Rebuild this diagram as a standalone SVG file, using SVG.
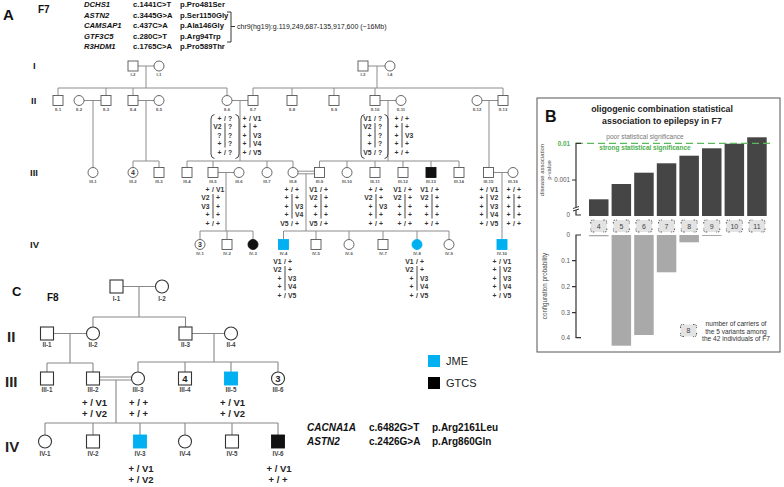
<svg xmlns="http://www.w3.org/2000/svg" xmlns:xlink="http://www.w3.org/1999/xlink" width="784" height="487" viewBox="0 0 784 487">
<style>
text{font-family:'Liberation Sans',Arial,sans-serif}
.ln{stroke:#8c8c8c;stroke-width:1;fill:none}
.s{fill:#fff;stroke:#555;stroke-width:0.9}
.k{fill:#111;stroke:#111;stroke-width:0.9}
.bl{fill:#00b0f0;stroke:#00b0f0;stroke-width:0.9}
.lb{font-weight:bold;font-size:4.3px;fill:#555;text-anchor:middle}
.g{font-weight:bold;font-size:6.8px;fill:#333}
.l{text-anchor:end}.r{text-anchor:start}.m{text-anchor:middle}
.hl{stroke:#333;stroke-width:0.9}
.br{fill:none;stroke:#333;stroke-width:0.9}
.gen{font-weight:bold;font-size:9.5px;fill:#222}
.hd{font-weight:bold;font-size:7.7px;fill:#111}
.it{font-style:italic}
.cs{fill:#fff;stroke:#333;stroke-width:1.1}
.cl{stroke:#888;stroke-width:1.1;fill:none}
.clb{font-weight:bold;font-size:6.3px;fill:#444;text-anchor:middle}
.cg{font-weight:bold;font-size:9.5px;fill:#222;text-anchor:middle}
.cgen{font-weight:bold;font-size:15px;fill:#222}
.num{font-weight:bold;font-size:7px;fill:#333;text-anchor:middle}
.ax{stroke:#333;stroke-width:1.2;fill:none}
.tk{font-size:6.3px;fill:#555;text-anchor:end}
.db{fill:#454545}
.lbar{fill:#a9a9a9}
.tg{font-size:7px;fill:#444;text-anchor:middle}
.sm{font-size:6.6px;fill:#444;text-anchor:middle}
</style>
<defs>
<g id="tag">
<rect x="-8" y="-6" width="16" height="12" rx="2" fill="#e3e3e3"/>
<path d="M-8,-2.5 V-4 Q-8,-6 -6,-6 H-4.5 M4.5,-6 H6 Q8,-6 8,-4 V-2.5 M8,2.5 V4 Q8,6 6,6 H4.5 M-4.5,6 H-6 Q-8,6 -8,4 V2.5" fill="none" stroke="#444" stroke-width="0.9" stroke-dasharray="1.5 1"/>
</g>
</defs>
<rect width="784" height="487" fill="#fff"/>

<g id="header">
<text x="3" y="20" style="font-weight:bold;font-size:15px;fill:#111">A</text>
<text x="38" y="13" style="font-weight:bold;font-size:10px;fill:#111">F7</text>
<text class="hd it" x="84" y="7">DCHS1</text><text class="hd" x="133" y="7">c.1441C&gt;T</text><text class="hd" x="180" y="7">p.Pro481Ser</text>
<text class="hd it" x="84" y="17.5">ASTN2</text><text class="hd" x="133" y="17.5">c.3445G&gt;A</text><text class="hd" x="180" y="17.5">p.Ser1150Gly</text>
<text class="hd it" x="84" y="28">CAMSAP1</text><text class="hd" x="133" y="28">c.437C&gt;A</text><text class="hd" x="180" y="28">p.Ala146Gly</text>
<text class="hd it" x="84" y="38.5">GTF3C5</text><text class="hd" x="133" y="38.5">c.280C&gt;T</text><text class="hd" x="180" y="38.5">p.Arg94Trp</text>
<text class="hd it" x="84" y="49">R3HDM1</text><text class="hd" x="133" y="49">c.1765C&gt;A</text><text class="hd" x="180" y="49">p.Pro589Thr</text>
<path d="M227,12 H231 V42 H227 M231,26.5 H235" fill="none" stroke="#222" stroke-width="0.9"/>
<text x="237" y="29" style="font-size:7px;fill:#222">chr9(hg19):g.119,249,687-135,917,600 (~16Mb)</text>
</g>

<g id="f7-generations">
<text class="gen" x="33" y="69">I</text>
<text class="gen" x="31" y="104">II</text>
<text class="gen" x="30" y="176">III</text>
<text class="gen" x="30" y="248">IV</text>
</g>

<g id="f7-connectors">
<path class="ln" d="M138,66 H154 M146,66 V88 M368,66 H385 M377,66 V88"/>
<path class="ln" d="M58,88 H227 M58,88 V95.5 M106,88 V95.5 M133,88 V95.5 M227,88 V95.5"/>
<path class="ln" d="M253,88 H503 M253,88 V95.5 M292,88 V95.5 M334,88 V95.5 M375,88 V95.5 M503,88 V95.5"/>
<path class="ln" d="M84,100.5 H101 M138,100.5 H154 M232,100.5 H248 M380,100.5 H396 M482,100.5 H498"/>
<path class="ln" d="M93,100.5 V167.5 M146,100.5 V161 M240,100.5 V161 M388,100.5 V161 M489,100.5 V167.5"/>
<path class="ln" d="M133,161 H159 M133,161 V167.5 M159,161 V167.5"/>
<path class="ln" d="M187,161 H293 M187,161 V167.5 M213,161 V167.5 M267,161 V167.5 M293,161 V167.5"/>
<path class="ln" d="M319.5,161 H459 M319.5,161 V167.5 M347,161 V167.5 M375,161 V167.5 M403,161 V167.5 M431,161 V167.5 M459,161 V167.5"/>
<path class="ln" d="M218,172.5 H234 M298,171.2 H314.5 M298,173.8 H314.5 M493.5,172.5 H508"/>
<path class="ln" d="M226,172.5 V231 M306,173.8 V231 M502,172.5 V239.5"/>
<path class="ln" d="M200,231 H253 M200,231 V239.5 M227,231 V239.5 M253,231 V239.5"/>
<path class="ln" d="M283.5,231 H449 M283.5,231 V239.5 M316,231 V239.5 M349,231 V239.5 M383,231 V239.5 M417,231 V239.5 M449,231 V239.5"/>
</g>

<g id="f7-I">
<g id="F7-I-2"><rect class="s" x="128" y="61" width="10" height="10"/><text class="lb" x="133" y="75.5">I-2</text></g>
<g id="F7-I-1"><circle class="s" cx="159" cy="66" r="5"/><text class="lb" x="159" y="75.5">I-1</text></g>
<g id="F7-I-3"><rect class="s" x="358" y="61" width="10" height="10"/><text class="lb" x="363" y="75.5">I-3</text></g>
<g id="F7-I-4"><circle class="s" cx="390" cy="66" r="5"/><text class="lb" x="390" y="75.5">I-4</text></g>
</g>

<g id="f7-II">
<g id="F7-II-1"><rect class="s" x="53" y="95.5" width="10" height="10"/><text class="lb" x="58" y="111">II-1</text></g>
<g id="F7-II-2"><circle class="s" cx="79" cy="100.5" r="5"/><text class="lb" x="79" y="111">II-2</text></g>
<g id="F7-II-3"><rect class="s" x="101" y="95.5" width="10" height="10"/><text class="lb" x="106" y="111">II-3</text></g>
<g id="F7-II-4"><rect class="s" x="128" y="95.5" width="10" height="10"/><text class="lb" x="133" y="111">II-4</text></g>
<g id="F7-II-5"><circle class="s" cx="159" cy="100.5" r="5"/><text class="lb" x="159" y="111">II-5</text></g>
<g id="F7-II-6"><circle class="s" cx="227" cy="100.5" r="5"/><text class="lb" x="227" y="111">II-6</text></g>
<g id="F7-II-7"><rect class="s" x="248" y="95.5" width="10" height="10"/><text class="lb" x="253" y="111">II-7</text></g>
<g id="F7-II-8"><rect class="s" x="287" y="95.5" width="10" height="10"/><text class="lb" x="292" y="111">II-8</text></g>
<g id="F7-II-9"><rect class="s" x="329" y="95.5" width="10" height="10"/><text class="lb" x="334" y="111">II-9</text></g>
<g id="F7-II-10"><rect class="s" x="370" y="95.5" width="10" height="10"/><text class="lb" x="375" y="111">II-10</text></g>
<g id="F7-II-11"><circle class="s" cx="401" cy="100.5" r="5"/><text class="lb" x="401" y="111">II-11</text></g>
<g id="F7-II-12"><circle class="s" cx="477" cy="100.5" r="5"/><text class="lb" x="477" y="111">II-12</text></g>
<g id="F7-II-13"><rect class="s" x="498" y="95.5" width="10" height="10"/><text class="lb" x="503" y="111">II-13</text></g>
</g>

<g id="f7-III">
<g id="F7-III-1"><circle class="s" cx="93" cy="172.5" r="5"/><text class="lb" x="93" y="182.5">III-1</text></g>
<g id="F7-III-2"><circle class="s" cx="133" cy="172.5" r="5"/><text class="num" x="133" y="175">4</text><text class="lb" x="133" y="182.5">III-2</text></g>
<g id="F7-III-3"><rect class="s" x="154" y="167.5" width="10" height="10"/><text class="lb" x="159" y="182.5">III-3</text></g>
<g id="F7-III-4"><rect class="s" x="182" y="167.5" width="10" height="10"/><text class="lb" x="187" y="182.5">III-4</text></g>
<g id="F7-III-5"><rect class="s" x="208" y="167.5" width="10" height="10"/><text class="lb" x="213" y="182.5">III-5</text></g>
<g id="F7-III-6"><circle class="s" cx="239" cy="172.5" r="5"/><text class="lb" x="239" y="182.5">III-6</text></g>
<g id="F7-III-7"><circle class="s" cx="267" cy="172.5" r="5"/><text class="lb" x="267" y="182.5">III-7</text></g>
<g id="F7-III-8"><circle class="s" cx="293" cy="172.5" r="5"/><text class="lb" x="293" y="182.5">III-8</text></g>
<g id="F7-III-9"><rect class="s" x="314.5" y="167.5" width="10" height="10"/><text class="lb" x="319.5" y="182.5">III-9</text></g>
<g id="F7-III-10"><circle class="s" cx="347" cy="172.5" r="5"/><text class="lb" x="347" y="182.5">III-10</text></g>
<g id="F7-III-11"><rect class="s" x="370" y="167.5" width="10" height="10"/><text class="lb" x="375" y="182.5">III-11</text></g>
<g id="F7-III-12"><rect class="s" x="398" y="167.5" width="10" height="10"/><text class="lb" x="403" y="182.5">III-12</text></g>
<g id="F7-III-13"><rect class="k" x="426" y="167.5" width="10" height="10"/><text class="lb" x="431" y="182.5">III-13</text></g>
<g id="F7-III-14"><rect class="s" x="454" y="167.5" width="10" height="10"/><text class="lb" x="459" y="182.5">III-14</text></g>
<g id="F7-III-15"><rect class="s" x="483.5" y="167.5" width="10" height="10"/><text class="lb" x="488.5" y="182.5">III-15</text></g>
<g id="F7-III-16"><circle class="s" cx="513" cy="172.5" r="5"/><text class="lb" x="513" y="182.5">III-16</text></g>
</g>

<g id="f7-IV">
<g id="F7-IV-1"><circle class="s" cx="200" cy="244.5" r="5"/><text class="num" x="200" y="247">3</text><text class="lb" x="200" y="254.5">IV-1</text></g>
<g id="F7-IV-2"><rect class="s" x="222" y="239.5" width="10" height="10"/><text class="lb" x="227" y="254.5">IV-2</text></g>
<g id="F7-IV-3"><circle class="k" cx="253" cy="244.5" r="5"/><text class="lb" x="253" y="254.5">IV-3</text></g>
<g id="F7-IV-4"><rect class="bl" x="278.5" y="239.5" width="10" height="10"/><text class="lb" x="283.5" y="254.5">IV-4</text></g>
<g id="F7-IV-5"><rect class="s" x="311" y="239.5" width="10" height="10"/><text class="lb" x="316" y="254.5">IV-5</text></g>
<g id="F7-IV-6"><circle class="s" cx="349" cy="244.5" r="5"/><text class="lb" x="349" y="254.5">IV-6</text></g>
<g id="F7-IV-7"><rect class="s" x="378" y="239.5" width="10" height="10"/><text class="lb" x="383" y="254.5">IV-7</text></g>
<g id="F7-IV-8"><circle class="bl" cx="417" cy="244.5" r="5"/><text class="lb" x="417" y="254.5">IV-8</text></g>
<g id="F7-IV-9"><circle class="s" cx="449" cy="244.5" r="5"/><text class="lb" x="449" y="254.5">IV-9</text></g>
<g id="F7-IV-10"><rect class="bl" x="497" y="239.5" width="10" height="10"/><text class="lb" x="502" y="254.5">IV-10</text></g>
</g>

<g id="f7-genotypes">
<g id="gt-II-6" transform="translate(225,120.5)">
<text class="g l" x="-3.5">+</text><text class="g m">/</text><text class="g r" x="3">?</text>
<text class="g l" x="-3.5" y="8.5">V2</text><text class="g r" x="3" y="8.5">?</text>
<text class="g l" x="-3.5" y="17">?</text><text class="g r" x="3" y="17">?</text>
<text class="g l" x="-3.5" y="25.5">+</text><text class="g r" x="3" y="25.5">?</text>
<text class="g l" x="-3.5" y="34">+</text><text class="g m" y="34">/</text><text class="g r" x="3" y="34">?</text>
<line class="hl" x1="0" y1="2.5" x2="0" y2="27"/>
<path class="br" d="M-10.5,-6 Q-14,-5.5 -14,-1.5 V33.5 Q-14,37.5 -10.5,38 M10.5,-6 Q14,-5.5 14,-1.5 V33.5 Q14,37.5 10.5,38"/>
</g>
<g id="gt-II-7" transform="translate(250,120.5)">
<text class="g l" x="-3.5">+</text><text class="g m">/</text><text class="g r" x="3">V1</text>
<text class="g l" x="-3.5" y="8.5">+</text><text class="g r" x="3" y="8.5">+</text>
<text class="g l" x="-3.5" y="17">+</text><text class="g r" x="3" y="17">V3</text>
<text class="g l" x="-3.5" y="25.5">+</text><text class="g r" x="3" y="25.5">V4</text>
<text class="g l" x="-3.5" y="34">+</text><text class="g m" y="34">/</text><text class="g r" x="3" y="34">V5</text>
<line class="hl" x1="0" y1="2.5" x2="0" y2="27"/>
</g>
<g id="gt-II-10" transform="translate(375,120.5)">
<text class="g l" x="-3.5">V1</text><text class="g m">/</text><text class="g r" x="3">?</text>
<text class="g l" x="-3.5" y="8.5">V2</text><text class="g r" x="3" y="8.5">?</text>
<text class="g l" x="-3.5" y="17">+</text><text class="g r" x="3" y="17">?</text>
<text class="g l" x="-3.5" y="25.5">+</text><text class="g r" x="3" y="25.5">?</text>
<text class="g l" x="-3.5" y="34">V5</text><text class="g m" y="34">/</text><text class="g r" x="3" y="34">?</text>
<line class="hl" x1="0" y1="2.5" x2="0" y2="27"/>
<path class="br" d="M-10.5,-6 Q-14,-5.5 -14,-1.5 V33.5 Q-14,37.5 -10.5,38 M9.5,-6 Q13,-5.5 13,-1.5 V33.5 Q13,37.5 9.5,38"/>
</g>
<g id="gt-II-11" transform="translate(402,120.5)">
<text class="g l" x="-3.5">+</text><text class="g m">/</text><text class="g r" x="3">+</text>
<text class="g l" x="-3.5" y="8.5">+</text><text class="g r" x="3" y="8.5">+</text>
<text class="g l" x="-3.5" y="17">+</text><text class="g r" x="3" y="17">V3</text>
<text class="g l" x="-3.5" y="25.5">+</text><text class="g r" x="3" y="25.5">+</text>
<text class="g l" x="-3.5" y="34">+</text><text class="g m" y="34">/</text><text class="g r" x="3" y="34">+</text>
<line class="hl" x1="0" y1="2.5" x2="0" y2="27"/>
</g>
<g id="gt-III-5" transform="translate(213,191.5)">
<text class="g l" x="-3.5">+</text><text class="g m">/</text><text class="g r" x="3">V1</text>
<text class="g l" x="-3.5" y="8.5">V2</text><text class="g r" x="3" y="8.5">+</text>
<text class="g l" x="-3.5" y="17">V3</text><text class="g r" x="3" y="17">+</text>
<text class="g l" x="-3.5" y="25.5">+</text><text class="g r" x="3" y="25.5">+</text>
<text class="g l" x="-3.5" y="34">+</text><text class="g m" y="34">/</text><text class="g r" x="3" y="34">+</text>
<line class="hl" x1="0" y1="2.5" x2="0" y2="27"/>
</g>
<g id="gt-III-8" transform="translate(292,191.5)">
<text class="g l" x="-3.5">+</text><text class="g m">/</text><text class="g r" x="3">+</text>
<text class="g l" x="-3.5" y="8.5">+</text><text class="g r" x="3" y="8.5">+</text>
<text class="g l" x="-3.5" y="17">+</text><text class="g r" x="3" y="17">V3</text>
<text class="g l" x="-3.5" y="25.5">+</text><text class="g r" x="3" y="25.5">V4</text>
<text class="g l" x="-3.5" y="34">V5</text><text class="g m" y="34">/</text><text class="g r" x="3" y="34">+</text>
<line class="hl" x1="0" y1="2.5" x2="0" y2="27"/>
</g>
<g id="gt-III-9" transform="translate(321,191.5)">
<text class="g l" x="-3.5">V1</text><text class="g m">/</text><text class="g r" x="3">+</text>
<text class="g l" x="-3.5" y="8.5">V2</text><text class="g r" x="3" y="8.5">+</text>
<text class="g l" x="-3.5" y="17">+</text><text class="g r" x="3" y="17">+</text>
<text class="g l" x="-3.5" y="25.5">+</text><text class="g r" x="3" y="25.5">+</text>
<text class="g l" x="-3.5" y="34">V5</text><text class="g m" y="34">/</text><text class="g r" x="3" y="34">+</text>
<line class="hl" x1="0" y1="2.5" x2="0" y2="27"/>
</g>
<g id="gt-III-11" transform="translate(376,191.5)">
<text class="g l" x="-3.5">+</text><text class="g m">/</text><text class="g r" x="3">+</text>
<text class="g l" x="-3.5" y="8.5">V2</text><text class="g r" x="3" y="8.5">+</text>
<text class="g l" x="-3.5" y="17">+</text><text class="g r" x="3" y="17">V3</text>
<text class="g l" x="-3.5" y="25.5">+</text><text class="g r" x="3" y="25.5">+</text>
<text class="g l" x="-3.5" y="34">+</text><text class="g m" y="34">/</text><text class="g r" x="3" y="34">+</text>
<line class="hl" x1="0" y1="2.5" x2="0" y2="27"/>
</g>
<g id="gt-III-12" transform="translate(405,191.5)">
<text class="g l" x="-3.5">V1</text><text class="g m">/</text><text class="g r" x="3">+</text>
<text class="g l" x="-3.5" y="8.5">V2</text><text class="g r" x="3" y="8.5">+</text>
<text class="g l" x="-3.5" y="17">+</text><text class="g r" x="3" y="17">+</text>
<text class="g l" x="-3.5" y="25.5">+</text><text class="g r" x="3" y="25.5">+</text>
<text class="g l" x="-3.5" y="34">+</text><text class="g m" y="34">/</text><text class="g r" x="3" y="34">+</text>
<line class="hl" x1="0" y1="2.5" x2="0" y2="27"/>
</g>
<g id="gt-III-13" transform="translate(432,191.5)">
<text class="g l" x="-3.5">V1</text><text class="g m">/</text><text class="g r" x="3">+</text>
<text class="g l" x="-3.5" y="8.5">V2</text><text class="g r" x="3" y="8.5">+</text>
<text class="g l" x="-3.5" y="17">+</text><text class="g r" x="3" y="17">+</text>
<text class="g l" x="-3.5" y="25.5">+</text><text class="g r" x="3" y="25.5">+</text>
<text class="g l" x="-3.5" y="34">+</text><text class="g m" y="34">/</text><text class="g r" x="3" y="34">+</text>
<line class="hl" x1="0" y1="2.5" x2="0" y2="27"/>
</g>
<g id="gt-III-15" transform="translate(487,191.5)">
<text class="g l" x="-3.5">+</text><text class="g m">/</text><text class="g r" x="3">V1</text>
<text class="g l" x="-3.5" y="8.5">+</text><text class="g r" x="3" y="8.5">V2</text>
<text class="g l" x="-3.5" y="17">+</text><text class="g r" x="3" y="17">V3</text>
<text class="g l" x="-3.5" y="25.5">+</text><text class="g r" x="3" y="25.5">V4</text>
<text class="g l" x="-3.5" y="34">+</text><text class="g m" y="34">/</text><text class="g r" x="3" y="34">V5</text>
<line class="hl" x1="0" y1="2.5" x2="0" y2="27"/>
</g>
<g id="gt-III-16" transform="translate(514,191.5)">
<text class="g l" x="-3.5">+</text><text class="g m">/</text><text class="g r" x="3">+</text>
<text class="g l" x="-3.5" y="8.5">+</text><text class="g r" x="3" y="8.5">+</text>
<text class="g l" x="-3.5" y="17">+</text><text class="g r" x="3" y="17">+</text>
<text class="g l" x="-3.5" y="25.5">+</text><text class="g r" x="3" y="25.5">+</text>
<text class="g l" x="-3.5" y="34">+</text><text class="g m" y="34">/</text><text class="g r" x="3" y="34">+</text>
<line class="hl" x1="0" y1="2.5" x2="0" y2="27"/>
</g>
<g id="gt-IV-4" transform="translate(285,263.5)">
<text class="g l" x="-3.5">V1</text><text class="g m">/</text><text class="g r" x="3">+</text>
<text class="g l" x="-3.5" y="8.5">V2</text><text class="g r" x="3" y="8.5">+</text>
<text class="g l" x="-3.5" y="17">+</text><text class="g r" x="3" y="17">V3</text>
<text class="g l" x="-3.5" y="25.5">+</text><text class="g r" x="3" y="25.5">V4</text>
<text class="g l" x="-3.5" y="34">+</text><text class="g m" y="34">/</text><text class="g r" x="3" y="34">V5</text>
<line class="hl" x1="0" y1="2.5" x2="0" y2="27"/>
</g>
<g id="gt-IV-8" transform="translate(417,263.5)">
<text class="g l" x="-3.5">V1</text><text class="g m">/</text><text class="g r" x="3">+</text>
<text class="g l" x="-3.5" y="8.5">V2</text><text class="g r" x="3" y="8.5">+</text>
<text class="g l" x="-3.5" y="17">+</text><text class="g r" x="3" y="17">V3</text>
<text class="g l" x="-3.5" y="25.5">+</text><text class="g r" x="3" y="25.5">V4</text>
<text class="g l" x="-3.5" y="34">+</text><text class="g m" y="34">/</text><text class="g r" x="3" y="34">V5</text>
<line class="hl" x1="0" y1="2.5" x2="0" y2="27"/>
</g>
<g id="gt-IV-10" transform="translate(500,263.5)">
<text class="g l" x="-3.5">+</text><text class="g m">/</text><text class="g r" x="3">V1</text>
<text class="g l" x="-3.5" y="8.5">+</text><text class="g r" x="3" y="8.5">V2</text>
<text class="g l" x="-3.5" y="17">+</text><text class="g r" x="3" y="17">V3</text>
<text class="g l" x="-3.5" y="25.5">+</text><text class="g r" x="3" y="25.5">V4</text>
<text class="g l" x="-3.5" y="34">+</text><text class="g m" y="34">/</text><text class="g r" x="3" y="34">V5</text>
<line class="hl" x1="0" y1="2.5" x2="0" y2="27"/>
</g>
</g>

<g id="panel-B">
<rect x="537" y="98" width="243" height="254" fill="#fff" stroke="#555" stroke-width="1"/>
<text x="545" y="122" style="font-weight:bold;font-size:16px;fill:#111">B</text>
<text x="662" y="112" text-anchor="middle" style="font-weight:bold;font-size:8.8px;fill:#222">oligogenic combination statistical</text>
<text x="662" y="124" text-anchor="middle" style="font-weight:bold;font-size:8.8px;fill:#222">association to epilepsy in F7</text>
<text x="645" y="139" text-anchor="middle" style="font-size:6.5px;fill:#777">poor statistical significance</text>
<text x="645" y="150" text-anchor="middle" style="font-weight:bold;font-size:6.5px;fill:#4caf50">strong statistical significance</text>
<text transform="translate(544,170) rotate(-90)" class="sm" style="font-size:6px">disease association</text>
<text transform="translate(550.5,170) rotate(-90)" class="sm" style="font-size:6px">p-value</text>
<text transform="translate(547,286) rotate(-90)" class="sm" style="font-size:6.3px">configuration probability</text>
<g id="bars-top">
<rect class="db" x="589" y="199.3" width="19.5" height="16.7"/>
<rect class="db" x="611.6" y="184" width="19.5" height="32"/>
<rect class="db" x="634.2" y="172.7" width="19.5" height="43.3"/>
<rect class="db" x="656.8" y="163.3" width="19.5" height="52.7"/>
<rect class="db" x="679.4" y="155.7" width="19.5" height="60.3"/>
<rect class="db" x="702" y="148.3" width="19.5" height="67.7"/>
<rect class="db" x="724.6" y="143.7" width="19.5" height="72.3"/>
<rect class="db" x="747.2" y="137.3" width="19.5" height="78.7"/>
</g>
<g id="bars-bottom">
<rect class="lbar" x="589" y="235" width="19.5" height="1.3"/>
<rect class="lbar" x="611.6" y="235" width="19.5" height="110.7"/>
<rect class="lbar" x="634.2" y="235" width="19.5" height="100"/>
<rect class="lbar" x="656.8" y="235" width="19.5" height="37.3"/>
<rect class="lbar" x="679.4" y="235" width="19.5" height="7.3"/>
<rect class="lbar" x="702" y="235" width="19.5" height="1"/>
</g>
<path d="M576,143.3 H770" stroke="#5cb85c" stroke-width="1.3" stroke-dasharray="7 4" fill="none"/>
<path class="ax" d="M581,143.3 H576 V207 M576,210 V215 H581 M572,180 H576"/>
<path d="M573,208.5 L579,206.5 M573,211 L579,209" stroke="#333" stroke-width="1" fill="none"/>
<text x="570" y="145.5" class="tk" style="fill:#4caf50;font-weight:bold">0.01</text>
<text x="570" y="182.2" class="tk">0.001</text>
<text x="570" y="217" class="tk">0</text>
<path class="ax" d="M581,235 H576 V337.7 H581 M572,260.7 H576 M572,286.7 H576 M572,312.7 H576"/>
<text x="570" y="237.3" class="tk">0</text>
<text x="570" y="263" class="tk">0.1</text>
<text x="570" y="289" class="tk">0.2</text>
<text x="570" y="315" class="tk">0.3</text>
<text x="570" y="340" class="tk">0.4</text>
<g id="tags">
<use xlink:href="#tag" x="598.75" y="226"/><text class="tg" x="598.75" y="228.5">4</text>
<use xlink:href="#tag" x="621.35" y="226"/><text class="tg" x="621.35" y="228.5">5</text>
<use xlink:href="#tag" x="643.95" y="226"/><text class="tg" x="643.95" y="228.5">6</text>
<use xlink:href="#tag" x="666.55" y="226"/><text class="tg" x="666.55" y="228.5">7</text>
<use xlink:href="#tag" x="689.15" y="226"/><text class="tg" x="689.15" y="228.5">8</text>
<use xlink:href="#tag" x="711.75" y="226"/><text class="tg" x="711.75" y="228.5">9</text>
<use xlink:href="#tag" x="734.35" y="226"/><text class="tg" x="734.35" y="228.5">10</text>
<use xlink:href="#tag" x="756.95" y="226"/><text class="tg" x="756.95" y="228.5">11</text>
<use xlink:href="#tag" x="688.5" y="330.5"/><text class="tg" x="688.5" y="333">8</text>
</g>
<text x="736" y="326" class="sm" style="fill:#333">number of carriers of</text>
<text x="736" y="333.5" class="sm" style="fill:#333">the 5 variants among</text>
<text x="736" y="341" class="sm" style="fill:#333">the 42 individuals of F7</text>
</g>

<g id="legend">
<rect x="428" y="355" width="12" height="12" fill="#00b0f0"/>
<text x="446" y="365" style="font-size:11px;fill:#222">JME</text>
<rect x="428" y="377" width="12" height="12" fill="#000"/>
<text x="446" y="387" style="font-size:11px;fill:#222">GTCS</text>
</g>

<g id="f8-variants">
<text x="307" y="431" style="font-weight:bold;font-style:italic;font-size:10px;fill:#111">CACNA1A</text>
<text x="369" y="431" style="font-weight:bold;font-size:10px;fill:#111">c.6482G&gt;T</text>
<text x="432" y="431" style="font-weight:bold;font-size:10px;fill:#111">p.Arg2161Leu</text>
<text x="307" y="445" style="font-weight:bold;font-style:italic;font-size:10px;fill:#111">ASTN2</text>
<text x="369" y="445" style="font-weight:bold;font-size:10px;fill:#111">c.2426G&gt;A</text>
<text x="432" y="445" style="font-weight:bold;font-size:10px;fill:#111">p.Arg860Gln</text>
</g>

<g id="panel-C">
<text x="12" y="296" style="font-weight:bold;font-size:13px;fill:#111">C</text>
<text x="47" y="301" style="font-weight:bold;font-size:10px;fill:#111">F8</text>
<text class="cgen" x="7" y="342">II</text>
<text class="cgen" x="5" y="387">III</text>
<text class="cgen" x="5" y="452">IV</text>
</g>

<g id="f8-connectors">
<path class="cl" d="M123,286.5 H155.5 M139,286.5 V317 M93,317 H185.5 M93,317 V327 M185.5,317 V327"/>
<path class="cl" d="M53.5,333.5 H86.5 M70,333.5 V363 M47,363 H93 M47,363 V372 M93,363 V372"/>
<path class="cl" d="M192,333.5 H224.5 M214,333.5 V362 M138,362 H278 M138,362 V372 M185,362 V372 M231,362 V372 M278,362 V372"/>
<path class="cl" d="M99.5,377 H131.5 M99.5,380 H131.5 M116,380 V423 M45,423 H278 M45,423 V435 M93,423 V435 M140,423 V435 M185,423 V435 M232,423 V435 M278,423 V435"/>
</g>

<g id="f8-nodes">
<g id="F8-I-1"><rect class="cs" x="110" y="280" width="13" height="13"/><text class="clb" x="116.5" y="301">I-1</text></g>
<g id="F8-I-2"><circle class="cs" cx="162" cy="286.5" r="6.5"/><text class="clb" x="162" y="301">I-2</text></g>
<g id="F8-II-1"><rect class="cs" x="40.5" y="327" width="13" height="13"/><text class="clb" x="47" y="347">II-1</text></g>
<g id="F8-II-2"><circle class="cs" cx="93" cy="333.5" r="6.5"/><text class="clb" x="93" y="347">II-2</text></g>
<g id="F8-II-3"><rect class="cs" x="179" y="327" width="13" height="13"/><text class="clb" x="185.5" y="347">II-3</text></g>
<g id="F8-II-4"><circle class="cs" cx="231" cy="333.5" r="6.5"/><text class="clb" x="231" y="347">II-4</text></g>
<g id="F8-III-1"><rect class="cs" x="40.5" y="372" width="13" height="13"/><text class="clb" x="47" y="392">III-1</text></g>
<g id="F8-III-2"><rect class="cs" x="86.5" y="372" width="13" height="13"/><text class="clb" x="93" y="392">III-2</text>
<text class="cg" x="94.5" y="406">+ / V1</text><text class="cg" x="94.5" y="416.5">+ / V2</text></g>
<g id="F8-III-3"><circle class="cs" cx="138" cy="378.5" r="6.5"/><text class="clb" x="138" y="392">III-3</text>
<text class="cg" x="138.5" y="406">+ / +</text><text class="cg" x="138.5" y="416.5">+ / +</text></g>
<g id="F8-III-4"><rect class="cs" x="178.5" y="372" width="13" height="13"/><text class="cg" x="185" y="382">4</text><text class="clb" x="185" y="392">III-4</text></g>
<g id="F8-III-5"><rect class="bl" x="224.5" y="372" width="13" height="13"/><text class="clb" x="231" y="392">III-5</text>
<text class="cg" x="232.5" y="406">+ / V1</text><text class="cg" x="232.5" y="416.5">+ / V2</text></g>
<g id="F8-III-6"><circle class="cs" cx="278" cy="378.5" r="6.5"/><text class="cg" x="278" y="382">3</text><text class="clb" x="278" y="392">III-6</text></g>
<g id="F8-IV-1"><circle class="cs" cx="45" cy="441.5" r="6.5"/><text class="clb" x="45" y="456">IV-1</text></g>
<g id="F8-IV-2"><rect class="cs" x="86.5" y="435" width="13" height="13"/><text class="clb" x="93" y="456">IV-2</text></g>
<g id="F8-IV-3"><rect class="bl" x="133.5" y="435" width="13" height="13"/><text class="clb" x="140" y="456">IV-3</text>
<text class="cg" x="141" y="472">+ / V1</text><text class="cg" x="141" y="483">+ / V2</text></g>
<g id="F8-IV-4"><circle class="cs" cx="185" cy="441.5" r="6.5"/><text class="clb" x="185" y="456">IV-4</text></g>
<g id="F8-IV-5"><rect class="cs" x="225.5" y="435" width="13" height="13"/><text class="clb" x="232" y="456">IV-5</text></g>
<g id="F8-IV-6"><rect class="k" x="271.5" y="435" width="13" height="13"/><text class="clb" x="278" y="456">IV-6</text>
<text class="cg" x="279" y="472">+ / V1</text><text class="cg" x="278" y="483">+ / +</text></g>
</g>
</svg>
